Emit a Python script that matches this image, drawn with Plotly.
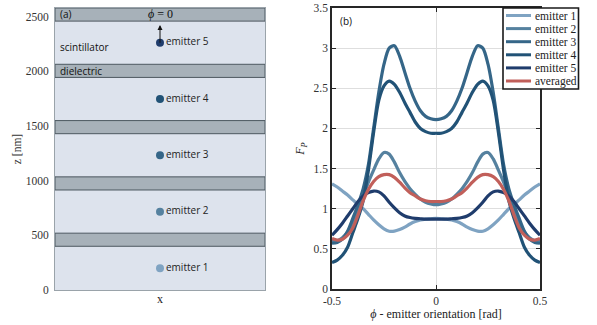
import plotly.graph_objects as go

# ---------------- data ----------------
# panel (a): layer stack
band_bottom = [400, 915, 1430, 1945, 2460]
band_top = [520, 1035, 1550, 2065, 2580]
z_max = 2580
emitter_names = ["emitter 1", "emitter 2", "emitter 3", "emitter 4", "emitter 5"]
emitter_x = [0, 0, 0, 0, 0]
emitter_z = [200, 715, 1232, 1747, 2262]
z_ticks = [0, 500, 1000, 1500, 2000, 2500]
arrow_z = [2170, 2425]

# panel (b): Purcell factor vs orientation
phi = [-0.5, -0.475, -0.45, -0.425, -0.4, -0.375, -0.35, -0.325, -0.3, -0.275, -0.25,
       -0.225, -0.2, -0.175, -0.15, -0.125, -0.1, -0.075, -0.05, -0.025, 0.0,
       0.025, 0.05, 0.075, 0.1, 0.125, 0.15, 0.175, 0.2, 0.225, 0.25,
       0.275, 0.3, 0.325, 0.35, 0.375, 0.4, 0.425, 0.45, 0.475, 0.5]
fp_e1 = [1.31, 1.27, 1.22, 1.17, 1.11, 1.05, 1.00, 0.93, 0.86, 0.80, 0.75,
         0.72, 0.72, 0.74, 0.77, 0.81, 0.84, 0.86, 0.87, 0.875, 0.88,
         0.875, 0.87, 0.86, 0.84, 0.81, 0.77, 0.74, 0.72, 0.72, 0.75,
         0.80, 0.86, 0.93, 1.00, 1.05, 1.11, 1.17, 1.22, 1.27, 1.31]
fp_e2 = [0.59, 0.60, 0.64, 0.71, 0.82, 0.97, 1.15, 1.33, 1.48, 1.62, 1.70,
         1.68, 1.58, 1.45, 1.34, 1.25, 1.18, 1.12, 1.08, 1.06, 1.05,
         1.06, 1.08, 1.12, 1.18, 1.25, 1.34, 1.45, 1.58, 1.68, 1.70,
         1.62, 1.48, 1.33, 1.15, 0.97, 0.82, 0.71, 0.64, 0.60, 0.59]
fp_e3 = [0.57, 0.58, 0.62, 0.72, 0.88, 1.05, 1.25, 1.55, 2.00, 2.45, 2.80,
         3.00, 3.03, 2.90, 2.70, 2.50, 2.34, 2.22, 2.15, 2.12, 2.11,
         2.12, 2.15, 2.22, 2.34, 2.50, 2.70, 2.90, 3.03, 3.00, 2.80,
         2.45, 2.00, 1.55, 1.25, 1.05, 0.88, 0.72, 0.62, 0.58, 0.57]
fp_e4 = [0.33, 0.36, 0.42, 0.52, 0.70, 0.88, 1.10, 1.48, 1.95, 2.35, 2.53,
         2.59, 2.55, 2.45, 2.32, 2.20, 2.08, 2.00, 1.96, 1.94, 1.94,
         1.94, 1.96, 2.00, 2.08, 2.20, 2.32, 2.45, 2.55, 2.59, 2.53,
         2.35, 1.95, 1.48, 1.10, 0.88, 0.70, 0.52, 0.42, 0.36, 0.33]
fp_e5 = [0.67, 0.74, 0.82, 0.91, 1.00, 1.09, 1.16, 1.20, 1.22, 1.21, 1.16,
         1.08, 1.01, 0.95, 0.91, 0.89, 0.88, 0.875, 0.87, 0.87, 0.87,
         0.87, 0.87, 0.875, 0.88, 0.89, 0.91, 0.95, 1.01, 1.08, 1.16,
         1.21, 1.22, 1.20, 1.16, 1.09, 1.00, 0.91, 0.82, 0.74, 0.67]
fp_avg = [0.63, 0.61, 0.62, 0.67, 0.76, 0.92, 1.10, 1.24, 1.34, 1.40, 1.425,
          1.425, 1.39, 1.33, 1.26, 1.20, 1.16, 1.12, 1.10, 1.09, 1.09,
          1.09, 1.10, 1.12, 1.16, 1.20, 1.26, 1.33, 1.39, 1.425, 1.425,
          1.40, 1.34, 1.24, 1.10, 0.92, 0.76, 0.67, 0.62, 0.61, 0.63]
series_names = ["emitter 1", "emitter 2", "emitter 3", "emitter 4", "emitter 5", "averaged"]
x_ticks = [-0.5, 0, 0.5]
x_tick_text = ["-0.5", "0", "0.5"]
y_ticks = [0, 0.5, 1, 1.5, 2, 2.5, 3, 3.5]
y_tick_text = ["0", "0.5", "1", "1.5", "2", "2.5", "3", "3.5"]

# ---------------- style ----------------
colors = ["#7fa3c2", "#55819f", "#356688", "#215276", "#1f3c6c", "#c15f5a"]
serif = "Liberation Serif, Times New Roman, serif"
sans = "Open Sans, sans-serif"
W, H = 597, 325


def px(x):
    return x / W


def py(y):
    return 1 - y / H


fig = go.Figure()

# panel (a) background
fig.add_shape(type="rect", xref="x domain", yref="y", x0=0, x1=1, y0=0, y1=z_max,
              fillcolor="#dde3ed", line=dict(width=0), layer="below")
for b0, b1 in zip(band_bottom, band_top):
    fig.add_shape(type="rect", xref="x domain", yref="y", x0=0, x1=1, y0=b0, y1=b1,
                  fillcolor="#a7b1b9", line=dict(color="#4d5860", width=1), layer="below")

fig.add_trace(go.Scatter(
    x=emitter_x, y=emitter_z, mode="markers+text", text=emitter_names,
    textposition="middle right", textfont=dict(family=sans, size=10, color="#222"),
    marker=dict(size=8, color=colors[:5]), showlegend=False, xaxis="x", yaxis="y",
    cliponaxis=False))

# arrow through emitter 5
fig.add_annotation(x=0, y=arrow_z[1], ax=0, ay=arrow_z[0], xref="x", yref="y",
                   axref="x", ayref="y", showarrow=True, arrowhead=2, arrowsize=1,
                   arrowwidth=1, arrowcolor="#111", text=" ")
fig.add_annotation(x=0, y=2525, xref="x", yref="y", text="<i>ϕ</i> = 0", showarrow=False,
                   font=dict(family=serif, size=12, color="#111"))
fig.add_annotation(x=0.012, y=2525, xref="x domain", yref="y", text="(a)", showarrow=False,
                   xanchor="left", font=dict(family=sans, size=10, color="#111"))
fig.add_annotation(x=0.012, y=2225, xref="x domain", yref="y", text="scintillator",
                   showarrow=False, xanchor="left", font=dict(family=sans, size=10, color="#111"))
fig.add_annotation(x=0.012, y=2002, xref="x domain", yref="y", text="dielectric",
                   showarrow=False, xanchor="left", font=dict(family=sans, size=10, color="#111"))

# panel (b) curves
for name, ys, c in zip(series_names, [fp_e1, fp_e2, fp_e3, fp_e4, fp_e5, fp_avg], colors):
    fig.add_trace(go.Scatter(x=phi, y=ys, mode="lines", name=name, showlegend=False,
                             line=dict(color=c, width=3.2, shape="spline", smoothing=0.8),
                             xaxis="x2", yaxis="y2"))

fig.add_annotation(x=0.03, y=0.985, xref="x2 domain", yref="y2 domain", text="(b)",
                   showarrow=False, xanchor="left", yanchor="top",
                   font=dict(family=sans, size=10, color="#111"))

# compact legend box (drawn on top of the plot)
fig.add_shape(type="rect", xref="paper", yref="paper", x0=px(503), x1=px(578.5),
              y0=py(89), y1=py(8), fillcolor="white",
              line=dict(color="#1a1a1a", width=1.6), layer="above")
for i, (name, c) in enumerate(zip(series_names, colors)):
    yc = 15.5 + i * 13.1
    fig.add_shape(type="line", xref="paper", yref="paper", x0=px(506), x1=px(531),
                  y0=py(yc), y1=py(yc), line=dict(color=c, width=3), layer="above")
    fig.add_annotation(x=px(532.5), y=py(yc), xref="paper", yref="paper", text=name,
                       showarrow=False, xanchor="left", yanchor="middle",
                       font=dict(family=serif, size=11.5, color="#222"))

fig.update_layout(
    width=W, height=H, margin=dict(l=0, r=0, t=0, b=0, autoexpand=False),
    paper_bgcolor="white", plot_bgcolor="white", showlegend=False,
    xaxis=dict(domain=[55 / W, 265 / W], range=[-1, 1], showticklabels=False, ticks="",
               showgrid=False, zeroline=False, showline=True, linecolor="#9aa3aa",
               linewidth=1, mirror=True,
               title=dict(text="x", font=dict(family=serif, size=12, color="#222"), standoff=4)),
    yaxis=dict(domain=[1 - 290 / H, 1 - 8 / H], range=[0, z_max], tickvals=z_ticks,
               ticks="outside", ticklen=3, tickcolor="rgba(0,0,0,0)",
               showgrid=False, zeroline=False, showline=True, linecolor="#9aa3aa",
               linewidth=1, mirror=True,
               tickfont=dict(family=serif, size=11.5, color="#333"),
               title=dict(text="z [nm]", font=dict(family=serif, size=11.5, color="#333"),
                          standoff=1)),
    xaxis2=dict(domain=[332 / W, 540 / W], range=[-0.5, 0.5], tickvals=x_ticks,
                ticktext=x_tick_text, ticks="inside", ticklen=4, tickcolor="#262626",
                showgrid=True, gridcolor="#dedede", gridwidth=1, zeroline=False,
                showline=True, linecolor="#262626", linewidth=1.5, mirror="ticks",
                tickfont=dict(family=serif, size=11.5, color="#333"), anchor="y2",
                title=dict(text="<i>ϕ</i> - emitter orientation [rad]",
                           font=dict(family=serif, size=12, color="#222"), standoff=4)),
    yaxis2=dict(domain=[1 - 289 / H, 1 - 8 / H], range=[0, 3.5], tickvals=y_ticks,
                ticktext=y_tick_text, ticks="inside", ticklen=4, tickcolor="#262626",
                showgrid=True, gridcolor="#dedede", gridwidth=1, zeroline=False,
                showline=True, linecolor="#262626", linewidth=1.5, mirror="ticks",
                tickfont=dict(family=serif, size=11.5, color="#333"), anchor="x2",
                title=dict(text="<i>F<sub>P</sub></i>",
                           font=dict(family=serif, size=12, color="#222"), standoff=6)),
)

fig.write_html("out.html")
